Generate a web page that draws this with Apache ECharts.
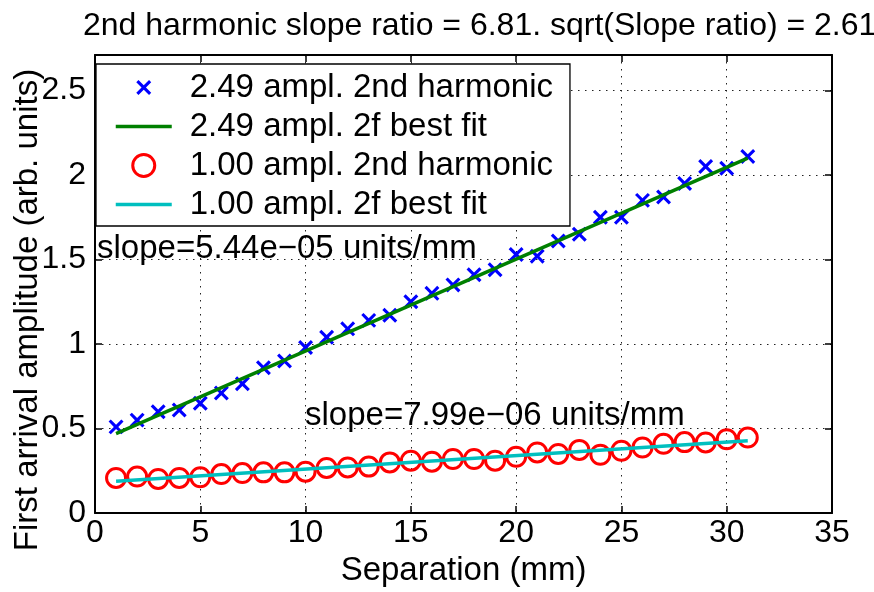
<!DOCTYPE html>
<html>
<head>
<meta charset="utf-8">
<script src="https://cdn.jsdelivr.net/npm/echarts@6/dist/echarts.min.js"></script>
<style>
html,body{margin:0;padding:0;background:#fff;}
#chart{width:874px;height:592px;}
</style>
</head>
<body>
<div id="chart"></div>
<script>
// ---- data ----
const separation = [1,2,3,4,5,6,7,8,9,10,11,12,13,14,15,16,17,18,19,20,21,22,23,24,25,26,27,28,29,30,31];
const amp249 = [0.51,0.55,0.60,0.61,0.65,0.71,0.765,0.86,0.90,0.98,1.04,1.09,1.14,1.17,1.25,1.30,1.35,1.41,1.44,1.53,1.52,1.61,1.65,1.75,1.75,1.85,1.87,1.95,2.05,2.04,2.11];
const amp100 = [0.208,0.216,0.202,0.208,0.212,0.231,0.237,0.241,0.241,0.245,0.267,0.27,0.275,0.30,0.31,0.304,0.32,0.32,0.31,0.333,0.359,0.35,0.374,0.345,0.369,0.388,0.41,0.42,0.418,0.437,0.447];
const fitX = [1, 31];
const fit249 = [0.47, 2.10];
const fit100 = [0.188, 0.428];
const seriesNames = ['2.49 ampl. 2nd harmonic','2.49 ampl. 2f best fit','1.00 ampl. 2nd harmonic','1.00 ampl. 2f best fit'];
const titleText = '2nd harmonic slope ratio = 6.81. sqrt(Slope ratio) = 2.61';
const slopeTexts = ['slope=5.44e\u221205 units/mm','slope=7.99e\u221206 units/mm'];
const xName = 'Separation (mm)';
const yName = 'First arrival amplitude (arb. units)';

const pair = (xs, ys) => xs.map((x, i) => [x, ys[i]]);
const FONT = 'Liberation Sans, Arial, Helvetica, sans-serif';
const xPath = 'path://M0 0M100 100M16 26L26 16L50 40L74 16L84 26L60 50L84 74L74 84L50 60L26 84L16 74L40 50Z';

const chart = echarts.init(document.getElementById('chart'), null, {renderer:'canvas'});
const gridLine = {show:true, lineStyle:{color:'#222', type:[1.5,5.5], width:1}};
const axisLine = {show:true, onZero:false, lineStyle:{color:'#000', width:2}};
const tick = {show:true, inside:true, length:7, lineStyle:{color:'#000', width:1.5}};
const hiddenSym = {color:'rgba(0,0,0,0)', borderColor:'rgba(0,0,0,0)', borderWidth:0, opacity:0};

chart.setOption({
  animation:false,
  backgroundColor:'#fff',
  title:{text:titleText, left:83, top:10, padding:0,
    textStyle:{fontFamily:FONT, fontSize:32, fontWeight:'normal', color:'#000'}},
  grid:{left:95, right:42, top:55, bottom:76, containLabel:false},
  legend:{
    orient:'vertical', left:96, top:64,
    data:[
      {name:seriesNames[0]},
      {name:seriesNames[1], itemStyle:hiddenSym, lineStyle:{color:'#008000', width:3.5}},
      {name:seriesNames[2], itemStyle:{borderWidth:3, borderColor:'#ff0000', color:'rgba(0,0,0,0)'}},
      {name:seriesNames[3], itemStyle:hiddenSym, lineStyle:{color:'#00bfbf', width:3.5}}
    ],
    itemWidth:56, itemHeight:22, itemGap:6,
    padding:[7,17,5,18],
    backgroundColor:'#fff', borderColor:'#000', borderWidth:1.3,
    selectedMode:false,
    textStyle:{fontFamily:FONT, fontSize:33, color:'#000', padding:[0,0,0,13]}
  },
  xAxis:[
    {type:'value', min:0, max:35, interval:5, position:'bottom',
     axisLine:axisLine, axisTick:tick, splitLine:gridLine,
     axisLabel:{fontFamily:FONT, fontSize:32, color:'#000', margin:4},
     name:xName, nameLocation:'middle', nameGap:40,
     nameTextStyle:{fontFamily:FONT, fontSize:33, color:'#000'}},
    {type:'value', min:0, max:35, interval:5, position:'top',
     axisLine:axisLine, axisTick:tick, splitLine:{show:false}, axisLabel:{show:false}}
  ],
  yAxis:[
    {type:'value', min:0, max:2.71, interval:0.5, position:'left',
     axisLine:axisLine, axisTick:tick, splitLine:gridLine,
     axisLabel:{fontFamily:FONT, fontSize:32, color:'#000', margin:9, showMaxLabel:false}},
    {type:'value', min:0, max:2.71, interval:0.5, position:'right',
     axisLine:axisLine, axisTick:tick, splitLine:{show:false}, axisLabel:{show:false}}
  ],
  graphic:[
    {type:'text', x:28, y:310, rotation:Math.PI/2,
     style:{text:yName, fontFamily:FONT, fontSize:33, fill:'#000', textAlign:'center', textVerticalAlign:'middle'}},
    {type:'text', x:97, y:249, z:100,
     style:{text:slopeTexts[0], fontFamily:FONT, fontSize:33, fill:'#000', textAlign:'left', textVerticalAlign:'middle'}},
    {type:'text', x:305, y:416, z:100,
     style:{text:slopeTexts[1], fontFamily:FONT, fontSize:33, fill:'#000', textAlign:'left', textVerticalAlign:'middle'}}
  ],
  series:[
    {name:seriesNames[0], type:'scatter', data:pair(separation, amp249),
     symbol:xPath, symbolSize:22, itemStyle:{color:'#0000ff', opacity:1}},
    {name:seriesNames[1], type:'line', data:pair(fitX, fit249), symbol:'none',
     lineStyle:{color:'#008000', width:3.5}, itemStyle:{color:'#008000'}},
    {name:seriesNames[2], type:'scatter', data:pair(separation, amp100),
     symbol:'circle', symbolSize:19,
     itemStyle:{color:'rgba(0,0,0,0)', borderColor:'#ff0000', borderWidth:3, opacity:1}},
    {name:seriesNames[3], type:'line', data:pair(fitX, fit100), symbol:'none',
     lineStyle:{color:'#00bfbf', width:3.5}, itemStyle:{color:'#00bfbf'}}
  ]
});
</script>
</body>
</html>
